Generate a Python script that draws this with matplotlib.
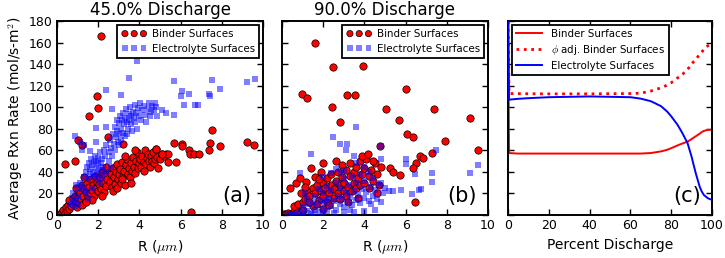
import numpy as np
import matplotlib
matplotlib.use("Agg")
import matplotlib.pyplot as plt

plt.rcParams['font.family'] = ['DejaVu Sans']
plt.rcParams['mathtext.fontset'] = 'cm'

# ---------------- data ----------------
# Panel (a): 45% discharge, (R [um], rate)
a_binder = [
    (0.15,1),(0.25,3),(0.3,5),(0.4,2),(0.45,7),(0.5,4),(0.55,9),(0.6,6),
    (0.65,12),(0.7,8),(0.75,15),(0.8,10),(0.85,18),(0.9,13),(0.95,7),(1.0,22),(1.0,16),(1.05,11),(0.9,25),
    (1.1,20),(1.15,14),(1.2,28),(1.25,18),(1.3,24),(1.35,12),(1.4,21),(1.45,30),(1.5,17),(1.2,9),(1.3,35),
    (1.55,26),(1.6,20),(1.65,33),(1.7,23),(1.75,28),(1.8,18),(1.85,36),(1.9,25),(1.95,31),(2.0,22),(1.7,14),
    (2.05,29),(2.1,35),(2.15,24),(2.2,40),(2.25,30),(2.3,21),(2.35,37),(2.4,27),(2.45,33),(2.5,42),(2.2,18),(2.4,45),
    (2.55,31),(2.6,38),(2.65,26),(2.7,44),(2.75,35),(2.8,29),(2.85,40),(2.9,47),(2.95,33),(3.0,38),(2.7,22),(2.9,25),
    (3.05,43),(3.1,30),(3.15,49),(3.2,36),(3.25,41),(3.3,28),(3.35,46),(3.4,52),(3.45,38),(3.5,44),(3.3,55),(3.15,33),
    (3.55,35),(3.6,48),(3.65,41),(3.7,54),(3.75,45),(3.8,39),(3.85,50),(3.9,58),(3.95,44),(4.0,48),(3.6,30),(3.8,60),
    (4.05,52),(4.1,45),(4.15,55),(4.2,49),(4.25,60),(4.3,47),(4.35,53),(4.4,57),(4.45,50),(4.5,45),(4.2,41),
    (4.55,55),(4.6,50),(4.65,58),(4.7,48),(4.75,52),(4.8,61),(4.85,54),(4.9,44),(5.0,52),(5.1,57),(5.2,55),(5.3,57),
    (2.16,166),(1.92,110),(2.0,99),(1.56,92),(0.39,47.5),(0.86,50),(1.02,70),(1.19,65),(2.46,72),(3.22,66),
    (6.5,3),(5.66,67),(6.07,66),(6.07,64),(6.39,60),(6.47,56.5),(6.63,57),(6.88,56.5),(7.5,79),(7.41,67),
    (7.37,60),(7.93,64),(9.2,68),(9.56,65),(5.77,49),(5.37,49),(5.4,57),(5.09,57),(4.8,61),(1.4,12),(0.6,14),
]
a_electrolyte = [
    (0.7,10),(0.75,16),(0.8,20),(0.85,8),(0.9,14),(1.0,24),(1.0,18),(1.1,30),(1.2,26),(1.3,35),(1.35,22),
    (1.4,40),(1.45,45),(1.5,33),(1.55,48),(1.6,38),(1.6,43),(1.65,52),(1.7,46),(1.75,40),(1.8,49),(1.85,55),
    (1.9,44),(1.9,50),(1.95,38),(2.0,47),(2.0,53),(2.05,42),(2.1,58),(2.15,48),(2.2,36),(2.2,52),(2.25,45),
    (2.3,60),(2.35,55),(2.4,40),(2.4,65),(2.5,58),(2.5,50),(2.55,70),(2.6,62),(2.65,55),(2.7,75),(2.75,66),
    (2.8,82),(2.8,60),(2.85,72),(2.9,88),(2.9,78),(2.95,68),(3.0,85),(3.0,75),(3.05,92),(3.1,80),(3.1,70),
    (3.15,88),(3.2,95),(3.2,76),(3.25,84),(3.3,90),(3.3,73),(3.35,98),(3.4,86),(3.45,80),(3.5,94),(3.5,88),
    (3.55,100),(3.6,84),(3.6,92),(3.65,78),(3.7,96),(3.75,90),(3.8,102),(3.8,86),(3.85,95),(3.9,80),(3.95,99),
    (4.0,92),(4.05,104),(4.1,88),(4.15,97),(4.2,101),(4.25,93),(4.3,86),(4.4,98),(4.45,104),(4.5,92),(4.55,96),
    (4.6,101),(4.7,97),(4.75,104),(4.8,100),(4.85,92),(1.2,60),(1.3,65),(1.1,68),(0.85,73),(1.6,59),(1.9,68),
    (1.9,81),(2.4,82),(2.65,98),(3.1,111),(2.4,116),(3.5,127),(3.9,143),(5.1,97),(5.3,95),(5.7,93),(5.7,124),
    (6.0,110),(6.05,115),(6.15,102),(6.4,112),(6.7,102),(6.85,102),(7.4,112),(7.45,110),(7.5,125),(7.9,117),
    (9.2,123),(9.6,126),(0.8,12),(1.0,10),(1.5,15),(1.7,25),(1.4,20),(2.1,30),(0.9,28),(3.4,75),(2.6,45),
    (3.0,65),(2.2,42),(1.8,35),(2.0,33),
]
# Panel (b): 90% discharge
b_binder = [
    (0.1,0.5),(0.2,1),(0.3,1.5),(0.4,1),(0.5,2),(0.6,3),(0.7,2),(0.8,4),(0.9,3),(1.0,5),(0.6,8),(0.8,10),
    (1.0,12),(1.1,15),(0.4,25.5),(0.7,30),(0.86,34),(1.18,31),(1.39,44),(1.2,22),(1.3,18),(1.5,25),(1.6,20),
    (1.7,28),(1.8,14),(1.9,22),(2.0,30),(2.0,18),(2.1,25),(2.2,34),(2.2,12),(2.3,20),(2.4,28),(2.4,38),
    (2.5,16),(2.5,24),(2.6,32),(2.7,20),(2.7,40),(2.8,28),(2.8,15),(2.9,35),(3.0,22),(3.0,30),(3.1,42),
    (3.1,18),(3.2,26),(3.3,36),(3.3,48),(3.4,22),(3.5,30),(3.5,40),(3.6,45),(3.6,25),(3.7,34),(3.8,50),
    (3.8,28),(3.9,38),(4.0,44),(4.0,30),(4.1,52),(4.2,36),(4.2,25),(4.3,42),(4.4,32),(4.5,48),(4.6,38),
    (4.7,28),(4.8,45),(1.5,8),(1.7,10),(2.0,6),(2.3,9),(1.3,12),(0.9,20),(1.1,26),(1.9,40),(2.9,46),
    (3.9,55),(4.4,50),(2.6,50),(2.0,48),(1.6,35),(1.8,33),(3.2,12),(3.7,16),(4.6,20),(4.17,56.5),
    (1.59,160),(2.48,137),(3.93,138),(6.04,117),(0.97,112),(1.21,109),(3.17,111),(3.56,111),(2.44,100),
    (5.06,98),(7.38,98),(9.11,90),(2.8,86),(5.66,88),(6.08,75),(6.36,72),(7.9,69),(9.51,60),(4.74,64),
    (7.3,57.5),(6.68,55),(6.85,53),(6.52,48),(6.36,43.5),(5.23,43.5),(5.39,40),(5.74,37),(6.47,12),
]
b_electrolyte = [
    (0.6,1),(0.8,2),(1.0,3),(1.2,4),(1.4,2),(1.6,5),(1.8,3),(2.0,6),(2.2,4),(2.4,8),(2.6,5),(2.8,10),
    (3.0,7),(3.2,12),(3.4,9),(3.6,14),(3.8,11),(4.0,16),(4.2,13),(4.4,18),(4.6,15),(1.0,8),(1.3,10),
    (1.5,12),(1.7,9),(1.9,14),(2.1,11),(2.3,16),(2.5,13),(2.7,18),(2.9,15),(3.1,20),(3.3,17),(3.5,22),
    (3.7,19),(3.9,24),(4.1,21),(4.3,26),(4.5,23),(4.7,28),(1.2,15),(1.6,18),(2.0,20),(2.4,22),(2.8,25),
    (3.2,28),(3.6,30),(4.0,32),(4.4,34),(4.8,30),(1.8,24),(2.2,27),(2.6,30),(3.0,33),(3.4,36),(3.8,38),
    (4.2,40),(2.0,35),(2.4,39),(2.86,39),(3.0,42),(4.0,45),(5.0,25),(5.2,22),(4.9,20),(0.86,39),(1.42,57),
    (2.48,72),(2.8,66),(3.16,66),(3.12,60),(3.5,55),(3.58,82),(4.82,64),(4.82,52),(6.04,52),(6.04,47),
    (7.49,60),(9.51,46),(9.11,39),(7.3,39),(7.3,31),(6.47,38),(6.76,24),(6.65,23),(6.31,19.5),(5.79,23),
    (5.39,22.7),(1.0,1),(1.5,1),(2.0,1.5),(2.5,2),(3.0,2.5),(3.5,3),(4.0,4),(4.5,5),(0.3,0.5),(0.5,0.5),
    (2.2,14),(3.3,5),(1.1,20),(2.6,43),(3.6,48),(4.3,10),(4.8,12),
]
# Panel (c): average rate vs percent discharge
c_pct =            [0,   0.5,   5,    10,   20,   40,   60,   65,   70,   75,   78,   80,   83,   85,   88,   90,   92,   94,   95,   96,   98,  100]
c_binder =         [200, 57.5,  57,   57,   57,   57,   57,   57,   57.5, 59,   60.5, 62,   64.5, 66,   68,   70.5, 73,   75.5, 77,   78,   79,   79]
c_binder_adj =     [200, 112.7, 112.6,112.5,112.4,112.4,112.7,113,  115,  118,  120.5,122.7,127,  129.5,135,  140,  144.5,149,  151,  154,  157,  160]
c_electrolyte =    [200, 107,   107.8,108.4,109.3,110,  109.3,108,  105.6,101,  96,   91.6, 84,   77.6, 66.8, 54,   39,   26,   21.7, 18.6, 15.5, 14]

titles = ['45.0% Discharge', '90.0% Discharge']
panel_labels = ['(a)', '(b)', '(c)']

# ---------------- figure ----------------
fig = plt.figure(figsize=(7.25, 2.58), dpi=100)
W, H = 725, 258
def ax_at(l, r):
    return fig.add_axes([l / W, 1 - 215 / H, (r - l) / W, (215 - 21) / H])

axa = ax_at(57, 263)
axb = ax_at(282, 488)
axc = ax_at(508, 712)

red = '#ff0000'
blue = '#0000ff'

for ax, binder, elec, title, lab in [(axa, a_binder, a_electrolyte, titles[0], panel_labels[0]),
                                     (axb, b_binder, b_electrolyte, titles[1], panel_labels[1])]:
    bb = np.array(binder)
    ee = np.array(elec)
    ax.scatter(bb[:, 0], bb[:, 1], s=28, c=red, edgecolors='black', linewidths=0.5,
               label='Binder Surfaces', zorder=2)
    ax.scatter(ee[:, 0], ee[:, 1], s=22, c=blue, marker='s', alpha=0.5, linewidths=0,
               label='Electrolyte Surfaces', zorder=3)
    ax.set_xlim(0, 10)
    ax.set_ylim(0, 180)
    ax.set_xticks(np.arange(0, 11, 2))
    ax.set_title(title, fontsize=12, pad=4)
    ax.set_xlabel(r'R ($\mu m$)', fontsize=10, labelpad=4)
    leg = ax.legend(loc='upper right', scatterpoints=3, fontsize=7.4, fancybox=False,
                    framealpha=1, edgecolor='black', borderpad=0.45, labelspacing=0.45,
                    handletextpad=0.5, borderaxespad=0.35, handlelength=2.4,
                    scatteryoffsets=[0.5], markerscale=0.85)
    leg.get_frame().set_linewidth(1.3)
    ax.text(0.945, 0.045, lab, transform=ax.transAxes, ha='right', va='bottom', fontsize=15, zorder=5)

axa.set_ylabel('Average Rxn Rate (mol/s-m$^2$)', fontsize=10, labelpad=3)
axb.set_yticklabels([])

axc.plot(c_pct, c_binder, color=red, lw=1.4, label='Binder Surfaces', zorder=2)
axc.plot(c_pct, c_binder_adj, color=red, lw=2.0, ls=':', label=r'$\phi$ adj. Binder Surfaces', zorder=2)
axc.plot(c_pct, c_electrolyte, color=blue, lw=1.4, label='Electrolyte Surfaces', zorder=3)
axc.set_xlim(0, 100)
axc.set_ylim(0, 180)
axc.set_xticks(np.arange(0, 101, 20))
axc.set_yticklabels([])
axc.set_xlabel('Percent Discharge', fontsize=10, labelpad=4)
legc = axc.legend(loc='upper left', fontsize=7.4, fancybox=False, framealpha=1, edgecolor='black',
                  borderpad=0.4, labelspacing=0.4, handletextpad=0.8, borderaxespad=0.35, handlelength=2.6)
legc.get_frame().set_linewidth(1.3)
axc.text(0.945, 0.045, panel_labels[2], transform=axc.transAxes, ha='right', va='bottom', fontsize=15, zorder=5)

for ax in (axa, axb, axc):
    ax.set_yticks(np.arange(0, 181, 20))
    ax.tick_params(direction='in', top=True, right=True, length=4, width=1, labelsize=9, pad=3)
    for sp in ax.spines.values():
        sp.set_linewidth(1.4)

fig.savefig('out.png', dpi=100)
